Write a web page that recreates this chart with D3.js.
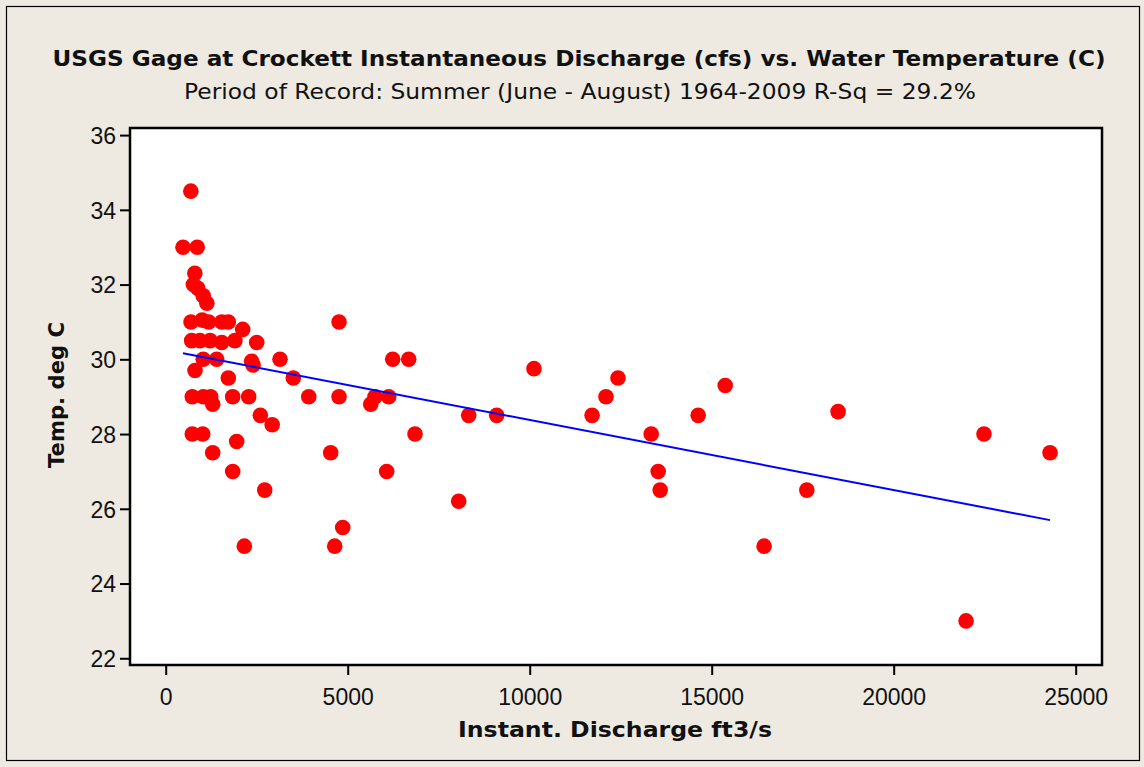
<!DOCTYPE html>
<html>
<head>
<meta charset="utf-8">
<script src="https://cdn.jsdelivr.net/npm/d3@7"></script>
<style>
  html, body { margin: 0; padding: 0; background: #EEEAE1; }
  svg { display: block; }
</style>
</head>
<body>
<svg id="chart" width="1144" height="767"></svg>
<script>
// Instantaneous discharge (cfs) and water temperature (deg C), summer readings
const discharge = [
  475, 690, 865, 800, 760, 880, 1030, 1130, 695, 1000, 1180, 1540, 1720, 2115,
  714, 940, 1220, 1540, 1900, 2500, 1030, 1400, 2360, 2400, 3140, 805, 1720, 3505,
  731, 1033, 1236, 1841, 2280, 3930, 1291, 2600, 2925, 731, 1016, 1950, 1291, 1841,
  2720, 2160, 4762, 6236, 6676, 4762, 5750, 5632, 6126, 8324, 9093, 6849, 4533, 6071,
  8049, 4863, 4643, 10118, 11714, 12096, 12426, 13338, 13530, 13585, 14629, 15371,
  16440, 17613, 18473, 21989, 22480, 24296
];
const temperature = [
  33.0, 34.5, 33.0, 32.3, 32.0, 31.9, 31.7, 31.5, 31.0, 31.05, 31.0, 31.0, 31.0, 30.8,
  30.5, 30.5, 30.5, 30.45, 30.5, 30.45, 30.0, 30.0, 29.95, 29.85, 30.0, 29.7, 29.5, 29.5,
  29.0, 29.0, 29.0, 29.0, 29.0, 29.0, 28.8, 28.5, 28.25, 28.0, 28.0, 27.8, 27.5, 27.0,
  26.5, 25.0, 31.0, 30.0, 30.0, 29.0, 29.0, 28.8, 29.0, 28.5, 28.5, 28.0, 27.5, 27.0,
  26.2, 25.5, 25.0, 29.75, 28.5, 29.0, 29.5, 28.0, 27.0, 26.5, 28.5, 29.3,
  25.0, 26.5, 28.6, 23.0, 28.0, 27.5
];
const xTicks = [0, 5000, 10000, 15000, 20000, 25000];
const yTicks = [22, 24, 26, 28, 30, 32, 34, 36];
// Fitted line: Temp = intercept + slope * Discharge
const fitIntercept = 30.25;
const fitSlope = -0.0001874;

const titleText = "USGS Gage at Crockett Instantaneous Discharge (cfs) vs. Water Temperature (C)";
const subtitleText = "Period of Record: Summer (June - August) 1964-2009 R-Sq = 29.2%";
const xTitle = "Instant. Discharge ft3/s";
const yTitle = "Temp. deg C";

const svg = d3.select("#chart");
const W = 1144, H = 767;
const plot = { left: 130, right: 1102, top: 128, bottom: 665 };

// page background and outer border
svg.append("rect").attr("x", 0).attr("y", 0).attr("width", W).attr("height", H).attr("fill", "#EEEAE1");
svg.append("rect").attr("x", 6.5).attr("y", 6.5).attr("width", 1133).attr("height", 754)
  .attr("fill", "none").attr("stroke", "#000").attr("stroke-width", 1.2);

const x = d3.scaleLinear().domain([-981, 25723]).range([plot.left, plot.right]);
const y = d3.scaleLinear().domain([21.82, 36.19]).range([plot.bottom, plot.top]);

// plotting area
svg.append("rect").attr("x", plot.left).attr("y", plot.top)
  .attr("width", plot.right - plot.left).attr("height", plot.bottom - plot.top)
  .attr("fill", "#fff");

const font = "'DejaVu Sans', Verdana, sans-serif";

// axes
const xAxis = d3.axisBottom(x).tickValues(xTicks).tickSize(10).tickPadding(8).tickFormat(d3.format("d"));
const yAxis = d3.axisLeft(y).tickValues(yTicks).tickSize(10).tickPadding(4).tickFormat(d3.format("d"));

const gx = svg.append("g").attr("transform", `translate(0,${plot.bottom})`).call(xAxis);
const gy = svg.append("g").attr("transform", `translate(${plot.left},0)`).call(yAxis);
[gx, gy].forEach(g => {
  g.select(".domain").remove();
  g.selectAll(".tick line").attr("stroke", "#000").attr("stroke-width", 2);
  g.selectAll(".tick text").attr("fill", "#111")
    .style("font-family", "'Liberation Sans', Arial, sans-serif").style("font-size", "23px");
});
gx.selectAll(".tick text").attr("dy", "0.95em");
gy.selectAll(".tick text").attr("dy", "0.36em");

// data points
const pts = discharge.map((d, i) => ({ q: d, t: temperature[i] }));
const qMin = d3.min(discharge), qMax = d3.max(discharge);

svg.append("g").selectAll("circle").data(pts).join("circle")
  .attr("cx", d => x(d.q)).attr("cy", d => y(d.t)).attr("r", 7.8)
  .attr("fill", "#FF0000");

// regression line
svg.append("line")
  .attr("x1", x(qMin)).attr("y1", y(fitIntercept + fitSlope * qMin))
  .attr("x2", x(qMax)).attr("y2", y(fitIntercept + fitSlope * qMax))
  .attr("stroke", "#0000FF").attr("stroke-width", 2);

// frame around plotting area
svg.append("rect").attr("x", plot.left).attr("y", plot.top)
  .attr("width", plot.right - plot.left).attr("height", plot.bottom - plot.top)
  .attr("fill", "none").attr("stroke", "#000").attr("stroke-width", 2.5);

// titles
svg.append("text").attr("x", 579).attr("y", 66).attr("text-anchor", "middle")
  .attr("textLength", 1053).attr("lengthAdjust", "spacingAndGlyphs")
  .style("font-family", font).style("font-weight", "bold").style("font-size", "21px")
  .attr("fill", "#111").text(titleText);
svg.append("text").attr("x", 580).attr("y", 99).attr("text-anchor", "middle")
  .attr("textLength", 792).attr("lengthAdjust", "spacingAndGlyphs")
  .style("font-family", font).style("font-size", "21px")
  .attr("fill", "#111").text(subtitleText);

svg.append("text").attr("x", 615).attr("y", 737).attr("text-anchor", "middle")
  .attr("textLength", 314).attr("lengthAdjust", "spacingAndGlyphs")
  .style("font-family", font).style("font-weight", "bold").style("font-size", "22px")
  .attr("fill", "#111").text(xTitle);

svg.append("text").attr("transform", "translate(64,395) rotate(-90)").attr("text-anchor", "middle")
  .attr("textLength", 146).attr("lengthAdjust", "spacingAndGlyphs")
  .style("font-family", font).style("font-weight", "bold").style("font-size", "22px")
  .attr("fill", "#111").text(yTitle);
</script>
</body>
</html>
